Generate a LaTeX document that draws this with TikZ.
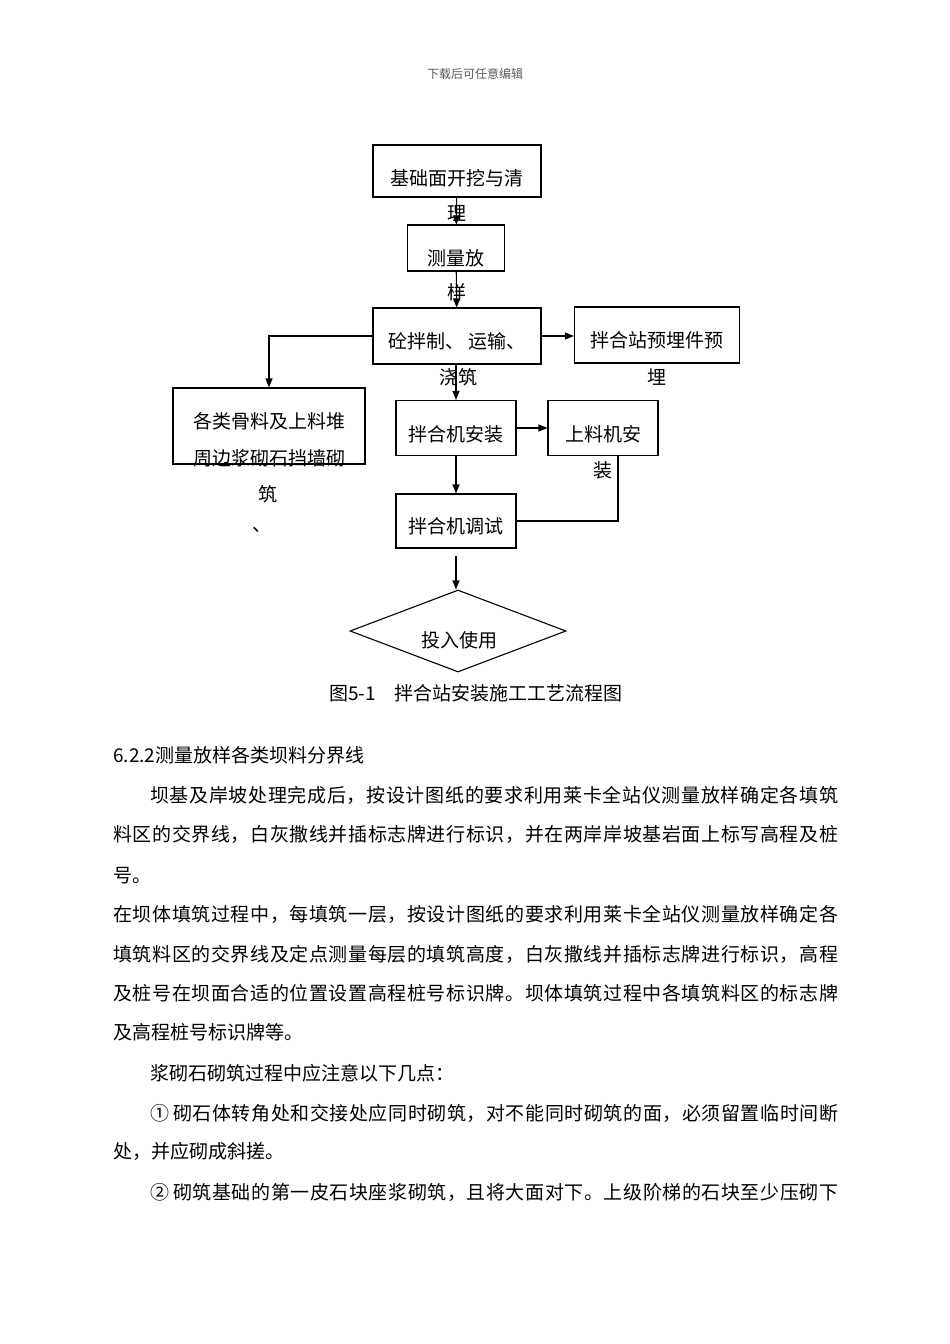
\documentclass[tikz,border=0pt]{standalone}
\usepackage{fontspec}
\setmainfont{Noto Sans CJK SC}
\usetikzlibrary{arrows.meta,shapes.geometric}

% spread the characters of a full line over its width
\def\spreadchars#1{#1\spreadrest}
\def\spreadrest#1{\ifx#1\relax\else\hskip 0pt plus 1fil #1\expandafter\spreadrest\fi}
\newcommand\fullline[2]{\hbox to #1{#2}}

\begin{document}
\begin{tikzpicture}[x=1pt,y=-1pt,font=\fontsize{19}{22}\selectfont,
    box/.style={draw,line width=1.1pt,inner sep=0pt},
    flow/.style={-{Triangle[length=9pt,width=7pt]},line width=1.1pt},
    body/.style={anchor=west,inner sep=0pt}]
      \useasboundingbox (0,0) rectangle (950,1344);

      \node[text=black!65,font=\fontsize{12}{14}\selectfont] (hdr) at (475,74) {下载后可任意编辑};

      % boxes
      \node[box,minimum width=168pt,minimum height=52pt] (jichu) at (457,171) {};
      \node[box,minimum width=97pt,minimum height=46pt] (celiang) at (456,248) {};
      \node[box,minimum width=168pt,minimum height=56pt] (banzhi) at (457,336) {};
      \node[box,minimum width=165pt,minimum height=56pt] (yumai) at (657,335) {};
      \node[box,minimum width=192pt,minimum height=76pt] (duiliao) at (269,426) {};
      \node[box,minimum width=120pt,minimum height=55pt] (anzhuang) at (456,428) {};
      \node[box,minimum width=110pt,minimum height=55pt] (shangliao) at (603,428) {};
      \node[box,minimum width=120pt,minimum height=54pt] (tiaoshi) at (456,521) {};
      \node[box,diamond,shape aspect=2.6,minimum width=216pt,minimum height=82pt] (shiyong) at (458,631) {};

      % texts
      \node (jichu-t) at (457,178) {基础面开挖与清};
      \node (jichu-t2) at (457,213) {理};
      \node (celiang-t) at (456,258) {测量放};
      \node (celiang-t2) at (457,292) {样};
      \node (banzhi-t) at (457,341) {砼拌制、 运输、};
      \node (banzhi-t2) at (458,377) {浇筑};
      \node (yumai-t) at (657,340) {拌合站预埋件预};
      \node (yumai-t2) at (657,377) {埋};
      \node (duiliao-t) at (269,421) {各类骨料及上料堆};
      \node (duiliao-t2) at (269,458) {周边浆砌石挡墙砌};
      \node (duiliao-t3) at (268,494) {筑};
      \node (duiliao-t4) at (262,530) {、};
      \node (anzhuang-t) at (456,434) {拌合机安装};
      \node (shangliao-t) at (603,434) {上料机安};
      \node (shangliao-t2) at (603,470) {装};
      \node (tiaoshi-t) at (456,526) {拌合机调试};
      \node (shiyong-t) at (459,640) {投入使用};

      % connectors
      \draw [flow] (jichu) -- (celiang);
      \draw [flow] (celiang) -- (banzhi);
      \draw [flow] (banzhi.east) -- (banzhi.east -| yumai.west);
      \draw [flow] (banzhi.west) -| (duiliao.north);
      \draw [flow] (banzhi.south -| anzhuang.north) -- (anzhuang.north);
      \draw [flow] (anzhuang.east) -- (shangliao.west);
      \draw [flow] (anzhuang) -- (tiaoshi);
      \draw [line width=1.1pt] ([xshift=15pt]shangliao.south) |- (tiaoshi.east);
      \draw [flow,shorten <=7pt] (tiaoshi.south) -- (tiaoshi.south |- shiyong.north);

      \node (cap) at (476,693) {图5-1\hspace{1em}拌合站安装施工工艺流程图};

      % text below the figure
      \node[body] (l0) at (113,755) {6.2.2测量放样各类坝料分界线};
      \node[body] (l1) at (150,795) {\fullline{688pt}{\spreadchars 坝基及岸坡处理完成后，按设计图纸的要求利用莱卡全站仪测量放样确定各填筑\relax}};
      \node[body] (l2) at (113,834) {\fullline{725pt}{\spreadchars 料区的交界线，白灰撒线并插标志牌进行标识，并在两岸岸坡基岩面上标写高程及桩\relax}};
      \node[body] (l3) at (113,876) {号。};
      \node[body] (l4) at (113,914) {\fullline{725pt}{\spreadchars 在坝体填筑过程中，每填筑一层，按设计图纸的要求利用莱卡全站仪测量放样确定各\relax}};
      \node[body] (l5) at (113,954) {\fullline{725pt}{\spreadchars 填筑料区的交界线及定点测量每层的填筑高度，白灰撒线并插标志牌进行标识，高程\relax}};
      \node[body] (l6) at (113,993) {\fullline{725pt}{\spreadchars 及桩号在坝面合适的位置设置高程桩号标识牌。坝体填筑过程中各填筑料区的标志牌\relax}};
      \node[body] (l7) at (113,1032) {及高程桩号标识牌等。};
      \node[body] (l8) at (150,1073) {浆砌石砌筑过程中应注意以下几点：};
      \node[body] (l9) at (150,1113) {\fullline{688pt}{①\hspace{4pt}\spreadchars 砌石体转角处和交接处应同时砌筑，对不能同时砌筑的面，必须留置临时间断\relax}};
      \node[body] (l10) at (113,1151) {处，并应砌成斜搓。};
      \node[body] (l11) at (150,1192) {\fullline{688pt}{②\hspace{4pt}\spreadchars 砌筑基础的第一皮石块座浆砌筑，且将大面对下。上级阶梯的石块至少压砌下\relax}};
\end{tikzpicture}
\end{document}
